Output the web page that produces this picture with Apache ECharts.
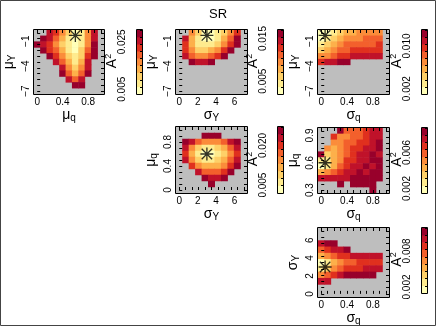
<!DOCTYPE html>
<html>
<head>
<meta charset="utf-8">
<script src="https://cdn.jsdelivr.net/npm/echarts@6/dist/echarts.min.js"></script>
<style>
html, body { margin: 0; padding: 0; background: #fff; }
#chart { width: 436px; height: 327px; }
</style>
</head>
<body>
<div id="chart"></div>
<script>
// parameter grids (cell centres)
const muQ = [0, 0.1, 0.2, 0.3, 0.4, 0.5, 0.6, 0.7, 0.8, 0.9, 1.0]
const muQ2 = [0.3, 0.365, 0.43, 0.495, 0.56, 0.625, 0.69, 0.755, 0.82, 0.885, 0.95]
const muY = [-7, -6.3, -5.6, -4.9, -4.2, -3.5, -2.8, -2.1, -1.4, -0.7, 0]
const sigY = [0, 0.7, 1.4, 2.1, 2.8, 3.5, 4.2, 4.9, 5.6, 6.3, 7]
const sigQ = [0, 0.1, 0.2, 0.3, 0.4, 0.5, 0.6, 0.7, 0.8, 0.9, 1.0]

// tick labels
const muQTicks = [0, 0.4, 0.8]
const muQ2Ticks = [0.3, 0.6, 0.9]
const muYTicks = [-7, -4, -1]
const sigYTicks = [0, 2, 4, 6]
const sigQTicks = [0, 0.4, 0.8]

// true parameter values (star)
const starMuQ = 0.6
const starMuY = -0.3
const starSigY = 3.0
const starSigQ = 0.06

// A^2 in units of 1e-3, rows from top (largest y) to bottom, null = no fit
const _ = null
const p1Values = [
  [_, _, 25.5, 22.5, 16.5, 10.5, 4.5, 7.5, 16.5, 25.5, _],
  [_, 28.5, 25.5, 19.5, 13.5, 7.5, 4.5, 7.5, 16.5, 25.5, _],
  [28.5, 25.5, 22.5, 16.5, 10.5, 7.5, 4.5, 7.5, 16.5, 28.5, _],
  [_, 28.5, 22.5, 19.5, 13.5, 7.5, 4.5, 10.5, 19.5, 28.5, _],
  [_, _, 28.5, 22.5, 16.5, 10.5, 7.5, 10.5, 22.5, 28.5, _],
  [_, _, _, 25.5, 19.5, 13.5, 7.5, 13.5, 25.5, _, _],
  [_, _, _, _, 25.5, 16.5, 10.5, 16.5, 25.5, _, _],
  [_, _, _, _, 28.5, 19.5, 13.5, 19.5, 28.5, _, _],
  [_, _, _, _, _, 25.5, 19.5, 25.5, _, _, _],
  [_, _, _, _, _, _, 28.5, 28.5, _, _, _],
  [_, _, _, _, _, _, _, _, _, _, _]
]
const p2Values = [
  [_, _, 9.5, 6.2, 2.8, 2.8, 4.5, 6.2, 9.5, 12.8, _],
  [_, 14.5, 7.8, 4.5, 2.8, 2.8, 4.5, 7.8, 11.2, 16.2, _],
  [_, 12.8, 7.8, 4.5, 4.5, 4.5, 6.2, 9.5, 12.8, 16.2, _],
  [_, 12.8, 9.5, 6.2, 6.2, 7.8, 9.5, 12.8, 16.2, _, _],
  [_, 14.5, 11.2, 9.5, 9.5, 11.2, 12.8, 16.2, _, _, _],
  [_, _, 16.2, 14.5, 14.5, 16.2, _, _, _, _, _],
  [_, _, _, _, _, _, _, _, _, _, _],
  [_, _, _, _, _, _, _, _, _, _, _],
  [_, _, _, _, _, _, _, _, _, _, _],
  [_, _, _, _, _, _, _, _, _, _, _],
  [_, _, _, _, _, _, _, _, _, _, _]
]
const p3Values = [
  [1.7, 1.7, 3.0, 4.3, 5.7, 5.7, 7.0, 7.0, 7.0, 7.0, _],
  [1.7, 3.0, 4.3, 5.7, 7.0, 7.0, 7.0, 8.3, 8.3, 8.3, _],
  [3.0, 4.3, 5.7, 7.0, 8.3, 8.3, 8.3, 8.3, 8.3, 9.7, _],
  [4.3, 5.7, 7.0, 8.3, 8.3, 9.7, 9.7, 9.7, 9.7, 9.7, _],
  [7.0, 7.0, 8.3, 9.7, 9.7, 11.0, 11.0, 11.0, 11.0, 11.0, _],
  [9.7, 11.0, 11.0, 12.3, 12.3, _, _, _, _, _, _],
  [_, _, _, _, _, _, _, _, _, _, _],
  [_, _, _, _, _, _, _, _, _, _, _],
  [_, _, _, _, _, _, _, _, _, _, _],
  [_, _, _, _, _, _, _, _, _, _, _],
  [_, _, _, _, _, _, _, _, _, _, _]
]
const p4Values = [
  [_, _, _, _, _, _, _, _, _, _, _],
  [_, _, _, _, 25.6, 25.6, 25.6, _, _, _, _],
  [_, 25.6, 22.8, 17.3, 14.5, 14.5, 14.5, 17.3, 22.8, 25.6, _],
  [_, 22.8, 14.5, 8.9, 6.2, 6.2, 8.9, 11.7, 17.3, 22.8, _],
  [_, 20.1, 11.7, 6.2, 3.4, 3.4, 6.2, 8.9, 14.5, 20.1, _],
  [_, 22.8, 14.5, 8.9, 6.2, 6.2, 8.9, 11.7, 17.3, 22.8, _],
  [_, _, 20.1, 14.5, 11.7, 11.7, 11.7, 14.5, 20.1, 25.6, _],
  [_, _, _, 22.8, 17.3, 17.3, 17.3, 20.1, 25.6, _, _],
  [_, _, _, _, 25.6, 22.8, 22.8, 25.6, _, _, _],
  [_, _, _, _, _, 25.6, _, _, _, _, _],
  [_, _, _, _, _, _, _, _, _, _, _]
]
const p5Values = [
  [_, _, _, 8.3, 5.9, 5.9, 5.9, 6.7, 7.5, 7.5, _],
  [_, _, 6.7, 5.1, 5.1, 5.9, 5.9, 6.7, 7.5, 7.5, _],
  [_, _, 5.1, 5.1, 5.9, 5.9, 6.7, 6.7, 7.5, 8.3, _],
  [_, 5.1, 4.3, 5.1, 5.9, 6.7, 6.7, 7.5, 7.5, 8.3, _],
  [8.3, 3.5, 4.3, 5.1, 5.9, 6.7, 7.5, 7.5, 8.3, 7.5, _],
  [2.7, 2.7, 4.3, 5.1, 6.7, 6.7, 7.5, 7.5, 8.3, 8.3, _],
  [1.9, 2.7, 4.3, 5.9, 6.7, 7.5, 7.5, 8.3, 7.5, 8.3, _],
  [4.3, 5.1, 5.9, 6.7, 7.5, 7.5, 8.3, 7.5, 8.3, 8.3, _],
  [7.5, 7.5, 7.5, 7.5, 7.5, 8.3, 8.3, 8.3, 8.3, 8.3, _],
  [_, _, _, 8.3, _, 8.3, 8.3, 8.3, 8.3, _, _],
  [_, _, _, _, _, _, _, _, 8.3, _, _]
]
const p6Values = [
  [_, _, _, _, _, _, _, _, _, _, _],
  [_, _, _, _, _, _, _, _, _, _, _],
  [10.0, 11.2, 11.2, _, _, _, _, _, _, _, _],
  [7.6, 8.8, 10.0, 10.0, 11.2, _, _, _, _, _, _],
  [5.2, 6.4, 7.6, 8.8, 8.8, 10.0, 10.0, 10.0, 10.0, 10.0, _],
  [1.6, 2.8, 5.2, 6.4, 7.6, 7.6, 8.8, 8.8, 8.8, 8.8, _],
  [2.8, 4.0, 6.4, 7.6, 8.8, 8.8, 8.8, 10.0, 10.0, 10.0, _],
  [6.4, 7.6, 8.8, 10.0, 11.2, 11.2, 11.2, 11.2, 11.2, _, _],
  [10.0, 10.0, _, _, _, _, _, _, _, _, _],
  [_, _, _, _, _, _, _, _, _, _, _],
  [_, _, _, _, _, _, _, _, _, _, _]
]

// colour bar ranges (1e-3) and labelled ticks
const p1Range = [3, 30], p1Bar = [5, 25]
const p2Range = [2, 17], p2Bar = [5, 15]
const p3Range = [1, 13], p3Bar = [2, 10]
const p4Range = [2, 27], p4Bar = [5, 20]
const p5Range = [1.5, 8.7], p5Bar = [2, 6]
const p6Range = [1, 11.8], p6Bar = [2, 8]

const palette = ['#ffffb8', '#feeb8e', '#fed068', '#fdb04a', '#fb8c3a', '#f3602c', '#e0301e', '#c0122a', '#98002b']
const font = 'Liberation Sans'
const starPath = 'path://M0 9L20 9L20 11L0 11Z M9 0L11 0L11 20L9 20Z M2.7 1.3L18.7 17.3L17.3 18.7L1.3 2.7Z M18.7 2.7L2.7 18.7L1.3 17.3L17.3 1.3Z'

const rich = {
  m: { fontFamily: font, fontSize: 14, color: '#000' },
  s: { fontFamily: font, fontSize: 10, color: '#000', verticalAlign: 'bottom', padding: [6, 0, 0, 0] },
  p: { fontFamily: font, fontSize: 9, color: '#000', verticalAlign: 'top', padding: [0, 0, 7, 0] }
}
const minus = v => String(v).replace('-', '\u2212')

const grids = [], xAxes = [], yAxes = [], series = [], visualMaps = [], frames = [], barTitles = []

const tickAxis = (gi, pos, g, labels, name, isY) => {
  const h = (g[1] - g[0]) / 2
  const ax = {
    type: 'value', gridIndex: gi, position: pos, z: 10,
    min: g[0] - h, max: g[g.length - 1] + h,
    axisLine: { show: false }, splitLine: { show: false },
    axisTick: { show: true, inside: true, length: 3, customValues: g, lineStyle: { color: '#000', width: 1 } },
    axisLabel: { show: false }
  }
  if (labels) {
    ax.axisLabel = { show: true, fontFamily: font, fontSize: 10, color: '#000', margin: 3,
      customValues: labels, formatter: minus, rotate: isY ? 90 : 0 }
    ax.name = name
    ax.nameLocation = 'middle'
    ax.nameGap = isY ? 17 : 13
    ax.nameRotate = isY ? 90 : 0
    ax.nameTextStyle = { rich }
  }
  return ax
}

function addPanel(p) {
  const [l, t, w, h] = p.box
  const gi = grids.length
  grids.push({ left: l, top: t, width: w, height: h, show: true, backgroundColor: '#bebebe', borderWidth: 0 })
  const xi = xAxes.length, yi = yAxes.length
  xAxes.push({ type: 'category', gridIndex: gi, data: p.x, show: false })
  xAxes.push(tickAxis(gi, 'bottom', p.x, p.xTicks, p.xName, false))
  xAxes.push(tickAxis(gi, 'top', p.x))
  yAxes.push({ type: 'category', gridIndex: gi, data: p.y, show: false })
  yAxes.push(tickAxis(gi, 'left', p.y, p.yTicks, p.yName, true))
  yAxes.push(tickAxis(gi, 'right', p.y))

  const n = p.values.length
  const data = []
  p.values.forEach((row, r) => row.forEach((v, c) => {
    if (v !== null) data.push([c, n - 1 - r, v])
  }))
  const heatIdx = series.length
  series.push({ type: 'heatmap', xAxisIndex: xi, yAxisIndex: yi, data, emphasis: { disabled: true } })
  series.push({ type: 'scatter', xAxisIndex: xi + 1, yAxisIndex: yi + 1, data: [p.star],
    symbol: starPath, symbolSize: 13, itemStyle: { color: '#000' }, z: 5, emphasis: { disabled: true } })

  // colour bar
  const [cl, ct, cw, ch] = p.cb
  const cg = grids.length
  grids.push({ left: cl, top: ct, width: cw, height: ch, show: false })
  const step = (p.range[1] - p.range[0]) / palette.length
  const bands = palette.map((c, k) => +(p.range[0] + step * (k + 0.5)).toFixed(4))
  const cxi = xAxes.length, cyi = yAxes.length
  xAxes.push({ type: 'category', gridIndex: cg, data: ['A2'], show: false })
  yAxes.push({ type: 'category', gridIndex: cg, data: bands, show: false })
  yAxes.push({
    type: 'value', gridIndex: cg, position: 'left', min: p.range[0], max: p.range[1],
    axisLine: { show: false }, axisTick: { show: false }, splitLine: { show: false },
    axisLabel: { fontFamily: font, fontSize: 10, color: '#000', rotate: 90, margin: 10,
      customValues: p.bar, formatter: v => (v / 1000).toFixed(3) }
  })
  yAxes.push({
    type: 'category', gridIndex: cg, position: 'right', data: bands, z: 10,
    axisLine: { show: false }, axisLabel: { show: false },
    axisTick: { show: true, inside: true, length: 2, interval: 0, lineStyle: { color: '#000' } }
  })
  const cbIdx = series.length
  series.push({ type: 'heatmap', xAxisIndex: cxi, yAxisIndex: cyi, data: bands.map((b, k) => [0, k, b]), emphasis: { disabled: true } })

  visualMaps.push({
    type: 'piecewise', show: false, min: p.range[0], max: p.range[1],
    splitNumber: palette.length, inRange: { color: palette }, seriesIndex: [heatIdx, cbIdx]
  })

  frames.push([l, t, w, h], [cl, ct, cw, ch])
  barTitles.push([cl - 25, ct + ch / 2 - 1])
}

addPanel({ box: [34, 30, 70, 64], cb: [137, 30, 5, 64], x: muQ, y: muY, values: p1Values,
  xTicks: muQTicks, yTicks: muYTicks, xName: '{m|μ}{s|q}', yName: '{m|μ}{s|Y}',
  range: p1Range, bar: p1Bar, star: [starMuQ, starMuY] })
addPanel({ box: [176, 30, 71, 64], cb: [278, 30, 5, 64], x: sigY, y: muY, values: p2Values,
  xTicks: sigYTicks, yTicks: muYTicks, xName: '{m|σ}{s|Y}', yName: '{m|μ}{s|Y}',
  range: p2Range, bar: p2Bar, star: [starSigY, starMuY] })
addPanel({ box: [318, 30, 71, 64], cb: [422, 30, 5, 64], x: sigQ, y: muY, values: p3Values,
  xTicks: sigQTicks, yTicks: muYTicks, xName: '{m|σ}{s|q}', yName: '{m|μ}{s|Y}',
  range: p3Range, bar: p3Bar, star: [starSigQ, starMuY] })
addPanel({ box: [176, 127, 71, 66], cb: [278, 127, 5, 66], x: sigY, y: muQ, values: p4Values,
  xTicks: sigYTicks, yTicks: muQTicks, xName: '{m|σ}{s|Y}', yName: '{m|μ}{s|q}',
  range: p4Range, bar: p4Bar, star: [starSigY, starMuQ] })
addPanel({ box: [318, 128, 71, 65], cb: [422, 128, 5, 65], x: sigQ, y: muQ2, values: p5Values,
  xTicks: sigQTicks, yTicks: muQ2Ticks, xName: '{m|σ}{s|q}', yName: '{m|μ}{s|q}',
  range: p5Range, bar: p5Bar, star: [starSigQ, starMuQ] })
addPanel({ box: [318, 228, 71, 69], cb: [422, 228, 5, 65], x: sigQ, y: sigY, values: p6Values,
  xTicks: sigQTicks, yTicks: sigYTicks, xName: '{m|σ}{s|q}', yName: '{m|σ}{s|Y}',
  range: p6Range, bar: p6Bar, star: [starSigQ, starSigY] })

const graphic = frames.map(([x, y, w, h]) => ({
  type: 'rect', z: 100, silent: true,
  shape: { x: x - 0.5, y: y - 0.5, width: w + 1, height: h + 1 },
  style: { fill: 'none', stroke: '#000', lineWidth: 1 }
}))
// "A²" titles beside each colour bar
barTitles.forEach(([x, y]) => graphic.push({
  type: 'text', z: 100, silent: true, x, y, rotation: Math.PI / 2,
  style: { text: '{m|A}{p|2}', rich, align: 'center', verticalAlign: 'middle' }
}))
graphic.push({ type: 'rect', z: 100, silent: true, shape: { x: 0.5, y: 0.5, width: 435, height: 325 },
  style: { fill: 'none', stroke: '#444', lineWidth: 1 } })

const chart = echarts.init(document.getElementById('chart'))
chart.setOption({
  animation: false,
  backgroundColor: '#fff',
  title: { text: 'SR', left: 'center', top: 3, textStyle: { fontFamily: font, fontSize: 13, fontWeight: 'normal', color: '#000' } },
  grid: grids,
  xAxis: xAxes,
  yAxis: yAxes,
  visualMap: visualMaps,
  series,
  graphic
})
</script>
</body>
</html>
